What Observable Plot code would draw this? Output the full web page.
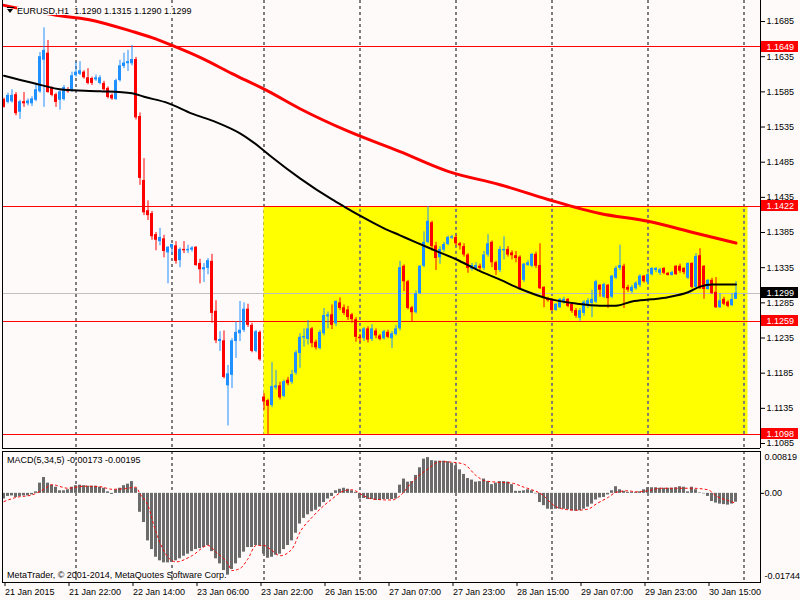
<!DOCTYPE html>
<html><head><meta charset="utf-8">
<script src="https://cdn.jsdelivr.net/npm/d3@7"></script>
<script src="https://cdn.jsdelivr.net/npm/@observablehq/plot@0.6"></script>
<style>
html,body{margin:0;padding:0;background:#fffafa;}
#chart{position:relative;width:800px;height:600px;overflow:hidden;background:#fffafa;font-family:"Liberation Sans",Arial,sans-serif;font-size:9px;color:#000;}
#main,#macd{position:absolute;left:0;}
#main{top:0;}
#macd{top:449px;}
.lbl{position:absolute;white-space:pre;font-size:9px;}
#title{left:17px;top:7px;line-height:8px;height:8px;background:#fffafa;padding-right:2px;}
#tri{position:absolute;left:7px;top:9px;width:0;height:0;border-left:3px solid transparent;border-right:3px solid transparent;border-top:4px solid #000;}
#triBar{position:absolute;left:7px;top:7px;width:7px;height:1px;background:#000;}
#macdTitle{left:7px;top:456px;line-height:9px;}
#copy{left:7px;top:571px;line-height:9px;}
svg{overflow:visible;}
</style></head><body>
<div id="chart">
  <div id="main"></div>
  <div id="macd"></div>
  <div id="triBar"></div><div id="tri"></div>
  <div class="lbl" id="title">EURUSD,H1  1.1290 1.1315 1.1290 1.1299</div>
  <div class="lbl" id="macdTitle">MACD(5,34,5) -0.00173 -0.00195</div>
  <div class="lbl" id="copy">MetaTrader, © 2001-2014, MetaQuotes Software Corp.</div>
</div>
<script>
// ---------- DATA ----------
const opens = [1.1574,1.1570,1.1571,1.1581,1.1556,1.1571,1.1568,1.1568,1.1573,1.1585,
1.1630,1.1640,1.1590,1.1581,1.1573,1.1574,1.1588,1.1588,1.1608,1.1610,
1.1613,1.1605,1.1604,1.1602,1.1597,1.1597,1.1590,1.1580,1.1574,1.1601,
1.1621,1.1625,1.1625,1.1631,1.1550,1.1459,1.1416,1.1412,1.1382,1.1372,
1.1376,1.1356,1.1363,1.1366,1.1345,1.1361,1.1359,1.1360,1.1364,1.1341,
1.1332,1.1334,1.1344,1.1273,1.1230,1.1231,1.1167,1.1182,1.1230,1.1241,
1.1246,1.1276,1.1253,1.1216,1.1243,1.1151,1.1146,1.1139,1.1164,1.1167,
1.1152,1.1175,1.1172,1.1185,1.1213,1.1235,1.1233,1.1248,1.1229,1.1220,
1.1241,1.1265,1.1268,1.1255,1.1285,1.1278,1.1275,1.1268,1.1261,1.1236,
1.1234,1.1248,1.1233,1.1245,1.1238,1.1234,1.1243,1.1234,1.1240,1.1248,
1.1337,1.1315,1.1278,1.1271,1.1298,1.1337,1.1371,1.1399,1.1366,1.1349,
1.1360,1.1368,1.1377,1.1378,1.1369,1.1365,1.1353,1.1333,1.1334,1.1337,
1.1334,1.1353,1.1371,1.1342,1.1331,1.1359,1.1361,1.1356,1.1352,1.1350,
1.1317,1.1338,1.1337,1.1354,1.1338,1.1307,1.1291,1.1290,1.1274,1.1278,
1.1286,1.1290,1.1283,1.1274,1.1263,1.1270,1.1280,1.1284,1.1286,1.1310,
1.1293,1.1310,1.1293,1.1320,1.1334,1.1337,1.1307,1.1301,1.1305,1.1310,
1.1323,1.1314,1.1325,1.1331,1.1327,1.1334,1.1327,1.1324,1.1337,1.1337,
1.1334,1.1320,1.1341,1.1307,1.1352,1.1337,1.1304,1.1317,1.1300,1.1278,
1.1290,1.1286,1.1281,1.1290];
const highs = [1.1576,1.1583,1.1588,1.1584,1.1573,1.1584,1.1575,1.1578,1.1597,1.1641,
1.1676,1.1658,1.1592,1.1583,1.1587,1.1594,1.1591,1.1613,1.1627,1.1628,
1.1615,1.1618,1.1606,1.1609,1.1608,1.1600,1.1592,1.1582,1.1603,1.1630,
1.1640,1.1644,1.1651,1.1634,1.1555,1.1490,1.1430,1.1415,1.1385,1.1391,
1.1381,1.1365,1.1368,1.1372,1.1363,1.1372,1.1367,1.1365,1.1365,1.1347,
1.1341,1.1348,1.1354,1.1288,1.1244,1.1245,1.1196,1.1234,1.1258,1.1287,
1.1285,1.1283,1.1256,1.1246,1.1245,1.1156,1.1148,1.1200,1.1189,1.1172,
1.1175,1.1179,1.1189,1.1217,1.1241,1.1248,1.1260,1.1250,1.1232,1.1246,
1.1277,1.1272,1.1282,1.1288,1.1292,1.1282,1.1280,1.1270,1.1264,1.1240,
1.1250,1.1251,1.1254,1.1248,1.1240,1.1246,1.1246,1.1244,1.1253,1.1344,
1.1339,1.1317,1.1280,1.1302,1.1338,1.1386,1.1422,1.1401,1.1371,1.1365,
1.1371,1.1380,1.1381,1.1381,1.1371,1.1369,1.1355,1.1341,1.1342,1.1340,
1.1358,1.1382,1.1373,1.1344,1.1365,1.1379,1.1365,1.1359,1.1358,1.1352,
1.1341,1.1345,1.1355,1.1357,1.1369,1.1308,1.1293,1.1291,1.1284,1.1291,
1.1293,1.1291,1.1284,1.1277,1.1277,1.1288,1.1291,1.1303,1.1317,1.1311,
1.1313,1.1311,1.1324,1.1337,1.1367,1.1340,1.1310,1.1310,1.1315,1.1325,
1.1324,1.1328,1.1335,1.1335,1.1334,1.1335,1.1328,1.1330,1.1338,1.1340,
1.1335,1.1342,1.1342,1.1355,1.1362,1.1338,1.1318,1.1320,1.1321,1.1298,
1.1293,1.1288,1.1298,1.1315];
const lows = [1.1562,1.1568,1.1569,1.1551,1.1546,1.1563,1.1565,1.1564,1.1571,1.1583,
1.1563,1.1583,1.1578,1.1563,1.1559,1.1572,1.1583,1.1584,1.1606,1.1608,
1.1603,1.1595,1.1594,1.1600,1.1595,1.1586,1.1575,1.1573,1.1573,1.1599,
1.1618,1.1614,1.1622,1.1545,1.1452,1.1409,1.1402,1.1374,1.1359,1.1366,
1.1349,1.1312,1.1353,1.1340,1.1335,1.1355,1.1355,1.1357,1.1337,1.1312,
1.1314,1.1325,1.1256,1.1227,1.1216,1.1177,1.1110,1.1163,1.1206,1.1230,
1.1243,1.1250,1.1214,1.1214,1.1202,1.1132,1.1098,1.1136,1.1161,1.1147,
1.1150,1.1167,1.1169,1.1182,1.1192,1.1222,1.1225,1.1221,1.1218,1.1218,
1.1238,1.1248,1.1247,1.1251,1.1274,1.1267,1.1260,1.1256,1.1229,1.1228,
1.1230,1.1228,1.1230,1.1234,1.1231,1.1232,1.1234,1.1220,1.1238,1.1245,
1.1301,1.1275,1.1258,1.1269,1.1297,1.1335,1.1369,1.1358,1.1331,1.1340,
1.1357,1.1366,1.1375,1.1366,1.1360,1.1350,1.1327,1.1330,1.1332,1.1331,
1.1331,1.1350,1.1335,1.1324,1.1328,1.1346,1.1350,1.1346,1.1342,1.1303,
1.1314,1.1337,1.1335,1.1334,1.1304,1.1278,1.1286,1.1273,1.1273,1.1277,
1.1283,1.1278,1.1270,1.1263,1.1259,1.1266,1.1277,1.1264,1.1284,1.1293,
1.1291,1.1277,1.1291,1.1318,1.1331,1.1277,1.1300,1.1298,1.1303,1.1307,
1.1313,1.1310,1.1323,1.1328,1.1324,1.1325,1.1323,1.1323,1.1324,1.1327,
1.1325,1.1318,1.1305,1.1305,1.1304,1.1290,1.1303,1.1297,1.1277,1.1277,
1.1281,1.1278,1.1280,1.1290];
const closes = [1.1563,1.1580,1.1580,1.1554,1.1571,1.1568,1.1572,1.1575,1.1588,1.1635,
1.1644,1.1584,1.1580,1.1570,1.1585,1.1591,1.1585,1.1608,1.1613,1.1615,
1.1605,1.1597,1.1597,1.1605,1.1605,1.1588,1.1577,1.1575,1.1601,1.1622,
1.1626,1.1628,1.1631,1.1548,1.1462,1.1413,1.1409,1.1379,1.1374,1.1378,
1.1358,1.1364,1.1368,1.1344,1.1361,1.1359,1.1361,1.1363,1.1338,1.1332,
1.1335,1.1345,1.1270,1.1231,1.1233,1.1179,1.1184,1.1231,1.1243,1.1246,
1.1276,1.1253,1.1216,1.1244,1.1204,1.1144,1.1138,1.1166,1.1167,1.1150,
1.1173,1.1170,1.1183,1.1214,1.1236,1.1237,1.1248,1.1227,1.1221,1.1243,
1.1267,1.1268,1.1253,1.1287,1.1277,1.1270,1.1264,1.1261,1.1236,1.1234,
1.1248,1.1232,1.1248,1.1238,1.1233,1.1244,1.1236,1.1241,1.1248,1.1335,
1.1315,1.1277,1.1271,1.1298,1.1337,1.1371,1.1401,1.1365,1.1348,1.1361,
1.1368,1.1378,1.1379,1.1369,1.1366,1.1353,1.1334,1.1338,1.1338,1.1334,
1.1353,1.1369,1.1342,1.1331,1.1361,1.1361,1.1353,1.1352,1.1348,1.1305,
1.1340,1.1342,1.1354,1.1337,1.1305,1.1291,1.1288,1.1274,1.1283,1.1290,
1.1290,1.1280,1.1273,1.1266,1.1274,1.1286,1.1288,1.1290,1.1315,1.1303,
1.1311,1.1291,1.1323,1.1334,1.1338,1.1305,1.1303,1.1307,1.1313,1.1323,
1.1315,1.1325,1.1334,1.1334,1.1332,1.1327,1.1324,1.1328,1.1325,1.1330,
1.1328,1.1341,1.1307,1.1351,1.1305,1.1304,1.1317,1.1298,1.1278,1.1288,
1.1283,1.1280,1.1290,1.1299];

// moving averages (bar index, value)
const slowMaBars = [0,13,21,32,37,42,49,57,66,74,86,99,111,124,136,149,161,173,183];
const slowMaVals = [1.1708,1.1694,1.1688,1.1671,1.1662,1.1651,1.1634,1.1611,1.1586,1.1561,1.1529,1.1500,1.1472,1.1453,1.1432,1.1412,1.1401,1.1384,1.1370];
const fastMaBars = [0,7,15,24,32,35,41,47,53,59,64,67,74,82,85,89,95,99,103,108,113,119,124,129,136,143,149,153,157,162,166,171,174,177,183];
const fastMaVals = [1.1608,1.1598,1.1588,1.1586,1.1583,1.1578,1.1569,1.1554,1.1542,1.1526,1.1506,1.1492,1.1462,1.1432,1.1422,1.1409,1.1391,1.1381,1.1371,1.1359,1.1347,1.1330,1.1318,1.1305,1.1291,1.1284,1.1281,1.1281,1.1287,1.1290,1.1293,1.1300,1.1308,1.1311,1.1311];

// MACD histogram (one value per bar) and signal line
const macdHist = [-0.0011,-0.0006,-0.0005,-0.0008,-0.0006,-0.0005,-0.0005,-0.0003,0.0003,0.0020,
0.0031,0.0020,0.0016,0.0012,0.0005,0.0005,0.0007,0.0012,0.0015,0.0016,
0.0015,0.0014,0.0014,0.0014,0.0012,0.0010,0.0003,-0.0002,0.0007,0.0010,
0.0015,0.0018,0.0023,0.0010,-0.0037,-0.0057,-0.0093,-0.0110,-0.0125,-0.0132,
-0.0136,-0.0136,-0.0135,-0.0132,-0.0128,-0.0123,-0.0119,-0.0114,-0.0110,-0.0108,
-0.0106,-0.0102,-0.0114,-0.0128,-0.0138,-0.0151,-0.0160,-0.0149,-0.0138,-0.0127,
-0.0115,-0.0106,-0.0106,-0.0102,-0.0102,-0.0119,-0.0127,-0.0125,-0.0121,-0.0119,
-0.0110,-0.0102,-0.0093,-0.0078,-0.0060,-0.0049,-0.0042,-0.0036,-0.0033,-0.0027,
-0.0018,-0.0011,-0.0006,0.0005,0.0008,0.0010,0.0008,0.0005,0.0002,-0.0011,
-0.0010,-0.0012,-0.0012,-0.0014,-0.0014,-0.0012,-0.0012,-0.0012,-0.0011,0.0016,
0.0028,0.0022,0.0023,0.0035,0.0050,0.0067,0.0070,0.0064,0.0063,0.0063,
0.0063,0.0062,0.0059,0.0054,0.0046,0.0037,0.0029,0.0026,0.0022,0.0023,
0.0028,0.0023,0.0017,0.0020,0.0023,0.0023,0.0022,0.0017,0.0004,0.0004,
0.0005,0.0007,0.0005,-0.0001,-0.0018,-0.0024,-0.0031,-0.0032,-0.0031,-0.0031,
-0.0031,-0.0032,-0.0034,-0.0035,-0.0034,-0.0031,-0.0027,-0.0021,-0.0013,-0.0009,
-0.0008,-0.0003,0.0005,0.0013,0.0007,0.0004,0.0002,0.0002,0.0002,0.0003,
0.0007,0.0011,0.0011,0.0011,0.0010,0.0010,0.0010,0.0010,0.0011,0.0013,
0.0012,0.0003,0.0012,0.0007,0.0001,-0.0001,-0.0006,-0.0016,-0.0019,-0.0021,
-0.0022,-0.0023,-0.0021,-0.00173];
const signalBars = [0,3,7,10,12,16,20,24,27,30,33,34,36,38,41,43,47,51,53,56,57,59,61,63,65,67,69,72,74,77,79,82,85,87,90,92,97,99,102,106,109,112,115,118,120,123,127,130,132,135,137,140,143,146,148,151,153,156,158,161,164,168,172,176,178,181,183];
const signalVals = [-0.0016,-0.0008,-0.0003,0.0008,0.0017,0.0010,0.0014,0.0013,0.0008,0.0009,0.0012,-0.0001,-0.0024,-0.0076,-0.0125,-0.0134,-0.0122,-0.0102,-0.0115,-0.0138,-0.0151,-0.0147,-0.0128,-0.0102,-0.0102,-0.0112,-0.0122,-0.0109,-0.0076,-0.0047,-0.0031,-0.0011,0.0005,0.0007,-0.0005,-0.0011,-0.0013,-0.0005,0.0022,0.0048,0.0062,0.0061,0.0057,0.0035,0.0025,0.0022,0.0020,0.0012,0.0007,-0.0005,-0.0021,-0.0031,-0.0033,-0.0031,-0.0021,-0.0008,0.0002,0.0005,0.0003,0.0005,0.0010,0.0010,0.0010,0.0007,-0.0005,-0.0014,-0.00195];

// axes / levels / objects
const priceTicks = [1.1685,1.1635,1.1585,1.1535,1.1485,1.1435,1.1385,1.1335,1.1285,1.1235,1.1185,1.1135,1.1085];
const redLevels = [1.1649,1.1422,1.1259,1.1098];
const bidPrice = 1.1299;
const macdTickVals = [0.00819, 0, -0.01744];
const macdTickText = ["0.00819", "0.00", "-0.01744"];
const timeTickBars = [0,16,32,48,64,80,96,112,128,144,160,176];
const timeTickLabels = ["21 Jan 2015","21 Jan 22:00","22 Jan 14:00","23 Jan 06:00","23 Jan 22:00","26 Jan 15:00","27 Jan 07:00","27 Jan 23:00","28 Jan 15:00","29 Jan 07:00","29 Jan 23:00","30 Jan 15:00"];
const dayGridBars = [18,42,65,89,113,137,161,185];
const zoneStart = 65, zoneEnd = 186, zoneTop = 1.1422, zoneBottom = 1.1098;

// ---------- BUILD ----------
const BLUE = "#1e90ff", RED = "#ff0000";
const bars = opens.map((o, i) => ({i, o, h: highs[i], l: lows[i], c: closes[i], up: closes[i] >= o}));
const slowMa = slowMaBars.map((b, k) => ({b, v: slowMaVals[k]}));
const fastMa = fastMaBars.map((b, k) => ({b, v: fastMaVals[k]}));
const hist = macdHist.map((v, i) => ({i, v}));
const signal = signalBars.map((b, k) => ({b, v: signalVals[k]}));
const zone = [{x1: zoneStart, x2: zoneEnd, y1: zoneBottom, y2: zoneTop}];
const levelRows = redLevels.map(v => ({v, color: RED})).concat([{v: bidPrice, color: "#000000"}]);
const half = 0.375;
const xDomain = [-half, 189.125];
const font = {fontFamily: "'Liberation Sans', Arial, sans-serif", fontSize: "9px", background: "transparent", color: "#000", overflow: "visible"};
const crisp = {shapeRendering: "crispEdges"};

const main = Plot.plot({
  width: 800, height: 449,
  marginLeft: 2, marginRight: 40, marginTop: 0, marginBottom: 1,
  style: font,
  x: {domain: xDomain, axis: null, label: null},
  y: {domain: [1.10779, 1.17149], axis: null, label: null},
  color: {type: "identity"},
  marks: [
    Plot.ruleX(dayGridBars, {x: d => d, stroke: "#000", strokeDasharray: "3,3"}),
    Plot.rect(zone, {x1: "x1", x2: "x2", y1: "y1", y2: "y2", fill: "#ffff00"}),
    Plot.ruleX(dayGridBars.filter(b => b > zoneStart && b < zoneEnd), {x: d => d, y1: zoneBottom, y2: zoneTop, stroke: "#0000e0", strokeDasharray: "3,3"}),
    Plot.ruleY(redLevels, {y: d => d, stroke: RED, ...crisp}),
    Plot.ruleY([bidPrice], {y: d => d, stroke: "#c0c0c0", ...crisp}),
    Plot.ruleX(bars, {x: "i", y1: "l", y2: "h", stroke: d => d.up ? BLUE : RED}),
    Plot.rect(bars, {x1: d => d.i - half, x2: d => d.i + half, y1: "o", y2: "c", fill: d => d.up ? BLUE : RED}),
    Plot.line(fastMa, {x: "b", y: "v", stroke: "#000", strokeWidth: 2, curve: "monotone-x"}),
    Plot.line(slowMa, {x: "b", y: "v", stroke: RED, strokeWidth: 3, curve: "monotone-x"}),
    Plot.ruleX([xDomain[0]], {x: d => d, stroke: "#000", ...crisp}),
    Plot.ruleX([xDomain[1]], {x: d => d, stroke: "#000", ...crisp}),
    Plot.ruleY([1.10779], {y: d => d, stroke: "#000", ...crisp}),
    Plot.axisY(priceTicks, {anchor: "right", tickSize: 4, tickPadding: 2, tickFormat: d3.format(".4f"), label: null, stroke: "#000", fill: "#000"}),
    Plot.text(levelRows, {y: "v", text: d => d.v.toFixed(4), frameAnchor: "right", dx: 6, textAnchor: "start", fill: "#ffffff", ariaDescription: "levels"})
  ]
});
document.getElementById("main").append(main);
// label boxes behind the level texts
const ys = main.scale("y");
const msel = d3.select(main);
levelRows.forEach(r => {
  msel.append("rect").attr("x", 761).attr("y", Math.round(ys.apply(r.v) - 5.5)).attr("width", 37).attr("height", 11).attr("fill", r.color);
});
msel.select('g[aria-description="levels"]').raise();

const macd = Plot.plot({
  width: 800, height: 151,
  marginLeft: 2, marginRight: 40, marginTop: 2, marginBottom: 18,
  style: font,
  x: {domain: xDomain, axis: null, label: null},
  y: {domain: [-0.01744, 0.00819], axis: null, label: null},
  marks: [
    Plot.ruleX(dayGridBars, {x: d => d, stroke: "#000", strokeDasharray: "3,3"}),
    Plot.rect(hist, {x1: d => d.i - half, x2: d => d.i + half, y1: 0, y2: "v", fill: "#6b6b6b"}),
    Plot.line(signal, {x: "b", y: "v", stroke: RED, strokeWidth: 1, strokeDasharray: "2,3", curve: "monotone-x"}),
    Plot.frame({stroke: "#000", ...crisp}),
    Plot.axisX(timeTickBars, {anchor: "bottom", tickSize: 4, tickPadding: 2, tickFormat: d => timeTickLabels[timeTickBars.indexOf(d)], textAnchor: "start", dx: 1, label: null}),
    Plot.axisY([0], {anchor: "right", tickSize: 3, tickFormat: () => "", label: null}),
    Plot.text([0], {y: d => macdTickVals[d], text: d => macdTickText[d], frameAnchor: "right", dx: 4, dy: 6, textAnchor: "start"}),
    Plot.text([1], {y: d => macdTickVals[d], text: d => macdTickText[d], frameAnchor: "right", dx: 4, textAnchor: "start"}),
    Plot.text([2], {y: d => macdTickVals[d], text: d => macdTickText[d], frameAnchor: "right", dx: 4, dy: -6, textAnchor: "start"})
  ]
});
document.getElementById("macd").append(macd);
</script>
</body></html>
